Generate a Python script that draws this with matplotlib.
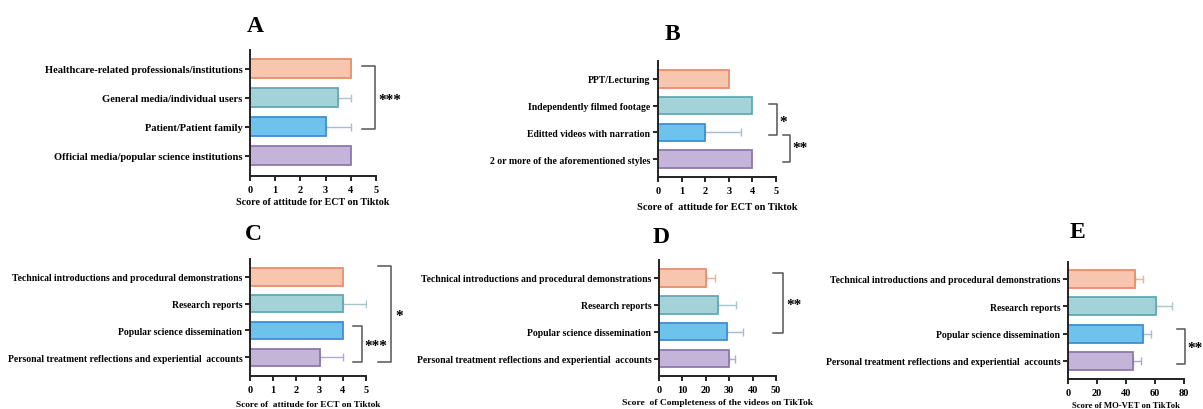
import matplotlib
matplotlib.use("Agg")
import matplotlib.pyplot as plt

plt.rcParams['font.family'] = ['Liberation Serif', 'DejaVu Serif']
plt.rcParams['font.weight'] = 'bold'

# ---- data ----
cats_a = ["Healthcare-related professionals/institutions", "General media/individual users",
          "Patient/Patient family", "Official media/popular science institutions"]
vals_a = [4, 3.5, 3, 4]
err_a = [0, 0.5, 1.0, 0]

cats_b = ["PPT/Lecturing", "Independently filmed footage",
          "Editted videos with narration", "2 or more of the aforementioned styles"]
vals_b = [3, 4, 2, 4]
err_b = [0, 0, 1.5, 0]

cats_content = ["Technical introductions and procedural demonstrations", "Research reports",
                "Popular science dissemination",
                "Personal treatment reflections and experiential  accounts"]
vals_c = [4, 4, 4, 3]
err_c = [0, 1, 0, 1]

vals_d = [20, 25, 29, 30]
err_d = [4, 8, 7, 2.5]

vals_e = [46, 61, 52, 45]
err_e = [6, 11, 5, 5]

face_colors = ["#F6C6AE", "#A3D3D9", "#6DC3EC", "#C4B4DA"]
edge_colors = ["#EC8C6C", "#62A9B2", "#3E8ED6", "#8C7AAE"]
err_colors = ["#F2AE96", "#A8C6CC", "#A6BCD0", "#B4A6CC"]

fig = plt.figure(figsize=(12.03, 4.10), dpi=100)
W, H = 1203, 410


def make_axes(x0, x1, ytop, ybot):
    return fig.add_axes([x0 / W, 1 - ybot / H, (x1 - x0) / W, (ybot - ytop) / H])


def panel(ax, cats, vals, errs, xmax, xstep, ylim, xlabel, catsize, xlsize, xlpad):
    pos = list(range(len(cats)))
    for i, (v, e) in enumerate(zip(vals, errs)):
        ax.barh(pos[i], v, height=0.65, color=face_colors[i], edgecolor=edge_colors[i],
                linewidth=1.3, zorder=2)
        if e > 0:
            ax.errorbar(v, pos[i], xerr=[[0], [e]], fmt='none', ecolor=err_colors[i],
                        elinewidth=1.0, capsize=3.2, capthick=1.0, zorder=1)
    ax.set_xlim(0, xmax)
    ax.set_ylim(*ylim)
    ax.set_yticks(pos)
    ax.set_yticklabels(cats, fontsize=catsize, fontweight='bold')
    ax.set_xticks(list(range(0, xmax + 1, xstep)))
    ax.tick_params(axis='x', labelsize=7.5, length=3.5, width=1.2, pad=3)
    ax.tick_params(axis='y', length=3.5, width=1.2, pad=2)
    for lab in ax.get_xticklabels():
        lab.set_fontweight('bold')
    for s in ('top', 'right'):
        ax.spines[s].set_visible(False)
    for s in ('left', 'bottom'):
        ax.spines[s].set_linewidth(1.4)
        ax.spines[s].set_color('#222222')
    ax.set_xlabel(xlabel, fontsize=xlsize, fontweight='bold', labelpad=xlpad)


def bracket(ax, x0, x1, y0, y1, label, tx, ty, size=11):
    ax.plot([x0, x1, x1, x0], [y0, y0, y1, y1], color='#555555', lw=1.1,
            clip_on=False, zorder=3)
    ax.text(tx, ty, label, fontsize=size, fontweight='bold', ha='left', va='center',
            clip_on=False)


# Panel A
axA = make_axes(250, 376, 51, 177)
panel(axA, cats_a, vals_a, err_a, 5, 1, (3.7, -0.65), "Score of attitude for ECT on Tiktok",
      7.6, 7.2, 2)
bracket(axA, 4.44, 4.96, -0.1, 2.07, "***", 5.1, 1.05)

# Panel B
axB = make_axes(658, 776, 62, 178)
panel(axB, cats_b, vals_b, err_b, 5, 1, (3.67, -0.67), "Score of  attitude for ECT on Tiktok",
      7.0, 7.5, 5)
bracket(axB, 4.70, 5.04, 0.95, 2.1, "*", 5.15, 1.6)
bracket(axB, 5.3, 5.6, 2.1, 3.1, "**", 5.7, 2.55)

# Panel C
axC = make_axes(250, 366, 260, 377)
panel(axC, cats_content, vals_c, err_c, 5, 1, (3.7, -0.67), "Score of  attitude for ECT on Tiktok",
      6.95, 6.7, 4)
bracket(axC, 5.52, 6.08, -0.41, 3.19, "*", 6.25, 1.45)
bracket(axC, 4.44, 4.83, 1.84, 3.19, "***", 4.95, 2.55)

# Panel D
axD = make_axes(659, 776, 261, 377)
panel(axD, cats_content, vals_d, err_d, 50, 10, (3.65, -0.67),
      "Score  of Completeness of the videos on TikTok", 6.95, 6.8, 3)
bracket(axD, 48.7, 53, -0.19, 2.04, "**", 54.5, 1.0)

# Panel E
axE = make_axes(1068, 1184, 263, 380)
panel(axE, cats_content, vals_e, err_e, 80, 20, (3.66, -0.62), "Score of MO-VET on TikTok",
      6.95, 6.2, 3)
bracket(axE, 75.2, 80.7, 1.83, 3.11, "**", 82.5, 2.5)

# Panel letters
for letter, x, y in [("A", 255, 27), ("B", 672, 35), ("C", 253, 235), ("D", 661, 238), ("E", 1077, 233)]:
    fig.text(x / W, 1 - y / H, letter, fontsize=17, fontweight='bold', ha='center', va='center')

fig.savefig("out.png", dpi=100)
